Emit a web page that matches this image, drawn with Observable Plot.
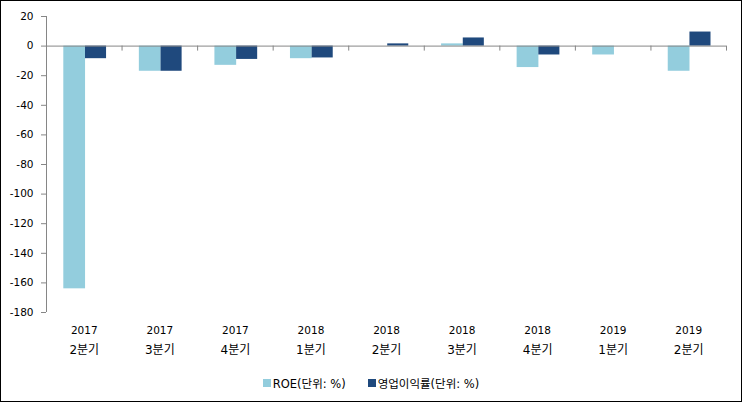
<!DOCTYPE html>
<html>
<head>
<meta charset="utf-8">
<script src="https://cdn.jsdelivr.net/npm/d3@7"></script>
<script src="https://cdn.jsdelivr.net/npm/@observablehq/plot@0.6"></script>
<style>
  body { margin: 0; background: #fff; }
  #frame { position: absolute; left: 0; top: 0; width: 740px; height: 400px; border: 1px solid #000; background: #fff; }
  #legend { display: flex; justify-content: center; align-items: center; gap: 22px; margin-top: 14px;
    font-family: "DejaVu Sans", "Noto Sans CJK KR", sans-serif; font-size: 11.5px; color: #000; }
  .item { display: flex; align-items: center; }
  .sw { width: 8px; height: 8px; margin-right: 2px; }
</style>
</head>
<body>
<div id="frame"><div id="chart"></div><div id="legend"></div></div>
<script>
const years = ["2017", "2017", "2017", "2018", "2018", "2018", "2018", "2019", "2019"];
const quarterLabels = ["2분기", "3분기", "4분기", "1분기", "2분기", "3분기", "4분기", "1분기", "2분기"];
const categories = years.map((y, i) => y + " " + quarterLabels[i]);
const roe = [-164, -17, -13, -8.5, 0, 1.5, -14.5, -6, -17];
const opMargin = [-8.5, -17, -9, -8, 1.5, 5.5, -6, 0, 9.5];
const seriesNames = ["ROE(단위: %)", "영업이익률(단위: %)"];
const seriesColors = ["#93CDDD", "#1F497D"];
const yTicks = d3.range(-180, 21, 20);

const data = categories.map((c, i) => ({cat: c, year: years[i], q: quarterLabels[i], roe: roe[i], op: opMargin[i]}));

const W = 740, H = 360, ML = 45, MR = 15, MT = 15, MB = 49;
const step = (W - ML - MR) / categories.length;
const gray = "#868686";

const chart = Plot.plot({
  width: W, height: H,
  marginLeft: ML, marginRight: MR, marginTop: MT, marginBottom: MB,
  style: {fontFamily: "'DejaVu Sans', 'Noto Sans CJK KR', sans-serif", fontSize: "10.5px", color: "#000", background: "#fff"},
  x: {type: "band", domain: categories, padding: 0, round: false, axis: null},
  y: {domain: [-180, 20], axis: null},
  marks: [
    Plot.barY(data, {x: "cat", y: "roe", fill: seriesColors[0], insetLeft: 17.3, insetRight: 36.5}),
    Plot.barY(data, {x: "cat", y: "op", fill: seriesColors[1], insetLeft: 39, insetRight: 15.5}),
    Plot.ruleY([0], {stroke: gray}),
    // y axis line
    Plot.ruleX([categories[0]], {x: d => d, y1: -180, y2: 20, dx: -step / 2, stroke: gray}),
    // category boundary ticks
    Plot.ruleX(categories, {x: d => d, y1: 0, y2: 0, insetBottom: -5, dx: -step / 2, stroke: gray}),
    Plot.ruleX([categories[categories.length - 1]], {x: d => d, y1: 0, y2: 0, insetBottom: -5, dx: step / 2, stroke: gray}),
    Plot.axisY(yTicks, {tickSize: 5, tickPadding: 8, tickFormat: d => String(d), stroke: gray, fill: "#000", fontSize: 10.5}),
    Plot.text(data, {x: "cat", text: "year", frameAnchor: "bottom", lineAnchor: "middle", dy: 18, fontSize: 10.5, fill: "#000"}),
    Plot.text(data, {x: "cat", text: "q", frameAnchor: "bottom", lineAnchor: "middle", dy: 38, fontSize: 12, fill: "#000"})
  ]
});
document.getElementById("chart").appendChild(chart);

const legend = document.getElementById("legend");
seriesNames.forEach((n, i) => {
  const it = document.createElement("div");
  it.className = "item";
  const sw = document.createElement("span");
  sw.className = "sw";
  sw.style.background = seriesColors[i];
  const t = document.createElement("span");
  t.textContent = n;
  it.appendChild(sw); it.appendChild(t);
  legend.appendChild(it);
});
</script>
</body>
</html>
